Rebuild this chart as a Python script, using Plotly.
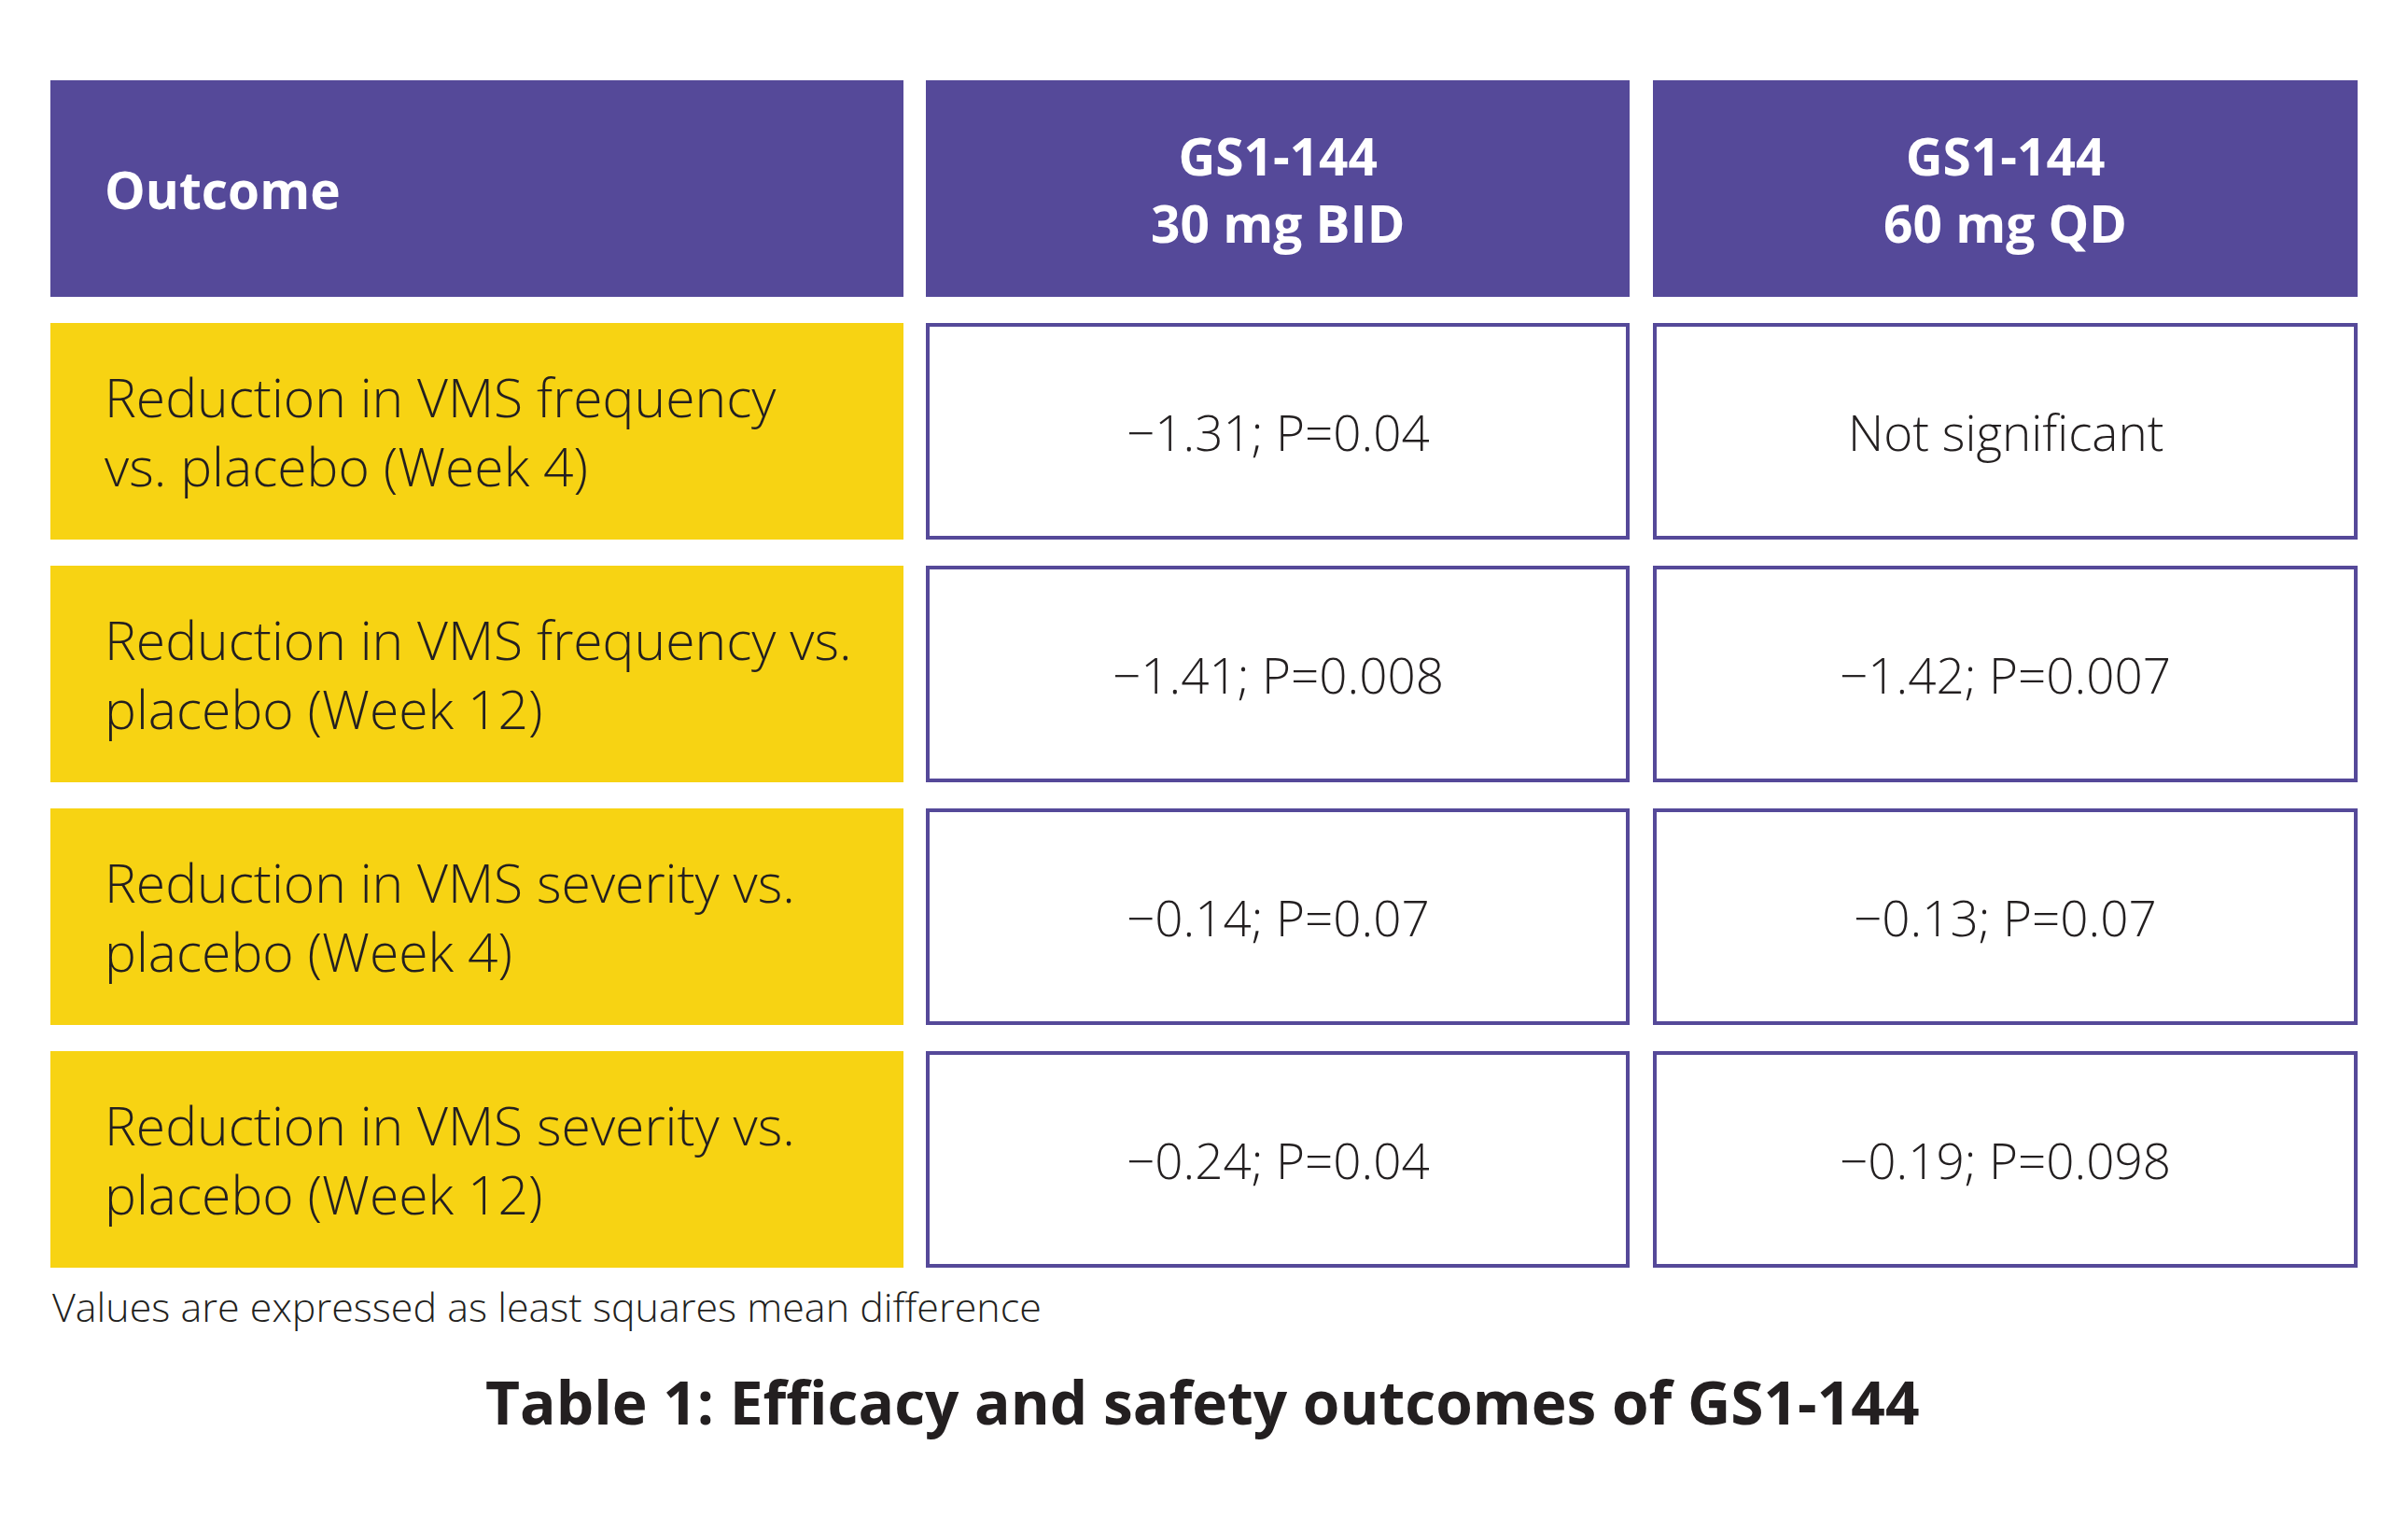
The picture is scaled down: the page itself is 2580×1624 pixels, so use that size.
import plotly.graph_objects as go

# ---- data ----
header_labels = ["Outcome", "GS1-144<br>30 mg BID", "GS1-144<br>60 mg QD"]
outcomes = [
    "Reduction in VMS frequency<br>vs. placebo (Week 4)",
    "Reduction in VMS frequency vs.<br>placebo (Week 12)",
    "Reduction in VMS severity vs.<br>placebo (Week 4)",
    "Reduction in VMS severity vs.<br>placebo (Week 12)",
]
bid_30mg = ["\u22121.31; P=0.04", "\u22121.41; P=0.008", "\u22120.14; P=0.07", "\u22120.24; P=0.04"]
qd_60mg = ["Not significant", "\u22121.42; P=0.007", "\u22120.13; P=0.07", "\u22120.19; P=0.098"]
footnote = "Values are expressed as least squares mean difference"
caption = "Table 1: Efficacy and safety outcomes of GS1-144"

# ---- style / layout ----
W, H = 2580, 1624
PURPLE = "#554999"
YELLOW = "#F7D313"
TEXT = "#231F20"
FONT = "Open Sans"

col_x = [(54, 968), (992, 1746), (1771, 2526)]
head_y = (86, 318)
row_top0, row_h, row_step = 346, 232, 260
text_left = 110

fig = go.Figure()
shapes = []
annots = []


def add_text(text, x, y, xanchor, font, align="left"):
    annots.append(dict(x=x, y=y, xref="x", yref="y", text=text, showarrow=False,
                       xanchor=xanchor, yanchor="middle", align=align, font=font))


# header
for j, lab in enumerate(header_labels):
    x0, x1 = col_x[j]
    shapes.append(dict(type="rect", xref="x", yref="y", x0=x0, x1=x1, y0=head_y[0], y1=head_y[1],
                       fillcolor=PURPLE, line=dict(width=0), layer="below"))
    hf = dict(family=FONT, size=55, color="white", weight="bold")
    yc = (head_y[0] + head_y[1]) / 2
    if j == 0:
        add_text(lab, text_left, yc, "left", hf)
    else:
        add_text(lab, (x0 + x1) / 2, yc, "center", hf, align="center")

# body rows
for i in range(len(outcomes)):
    y0 = row_top0 + i * row_step
    y1 = y0 + row_h
    yc = (y0 + y1) / 2
    x0, x1 = col_x[0]
    shapes.append(dict(type="rect", xref="x", yref="y", x0=x0, x1=x1, y0=y0, y1=y1,
                       fillcolor=YELLOW, line=dict(width=0), layer="below"))
    add_text(outcomes[i], text_left, yc, "left",
             dict(family=FONT, size=57, color=TEXT, weight=300))
    for j, vals in ((1, bid_30mg), (2, qd_60mg)):
        x0, x1 = col_x[j]
        shapes.append(dict(type="rect", xref="x", yref="y", x0=x0 + 2, x1=x1 - 2, y0=y0 + 2, y1=y1 - 2,
                           fillcolor="white", line=dict(color=PURPLE, width=4), layer="below"))
        add_text(vals[i], (x0 + x1) / 2, yc, "center",
                 dict(family=FONT, size=53, color=TEXT, weight=300), align="center")

add_text(footnote, 54, 1399, "left", dict(family=FONT, size=43, color=TEXT, weight=300))
add_text(caption, 1288, 1501, "center", dict(family=FONT, size=64, color=TEXT, weight="bold"),
         align="center")

fig.update_layout(
    width=W, height=H,
    margin=dict(l=0, r=0, t=0, b=0),
    paper_bgcolor="white", plot_bgcolor="white",
    xaxis=dict(range=[0, W], visible=False, fixedrange=True),
    yaxis=dict(range=[H, 0], visible=False, fixedrange=True),
    shapes=shapes, annotations=annots, showlegend=False,
)

fig.write_html("out.html", config={"displayModeBar": False},
               post_script="document.body.style.margin='0';document.body.style.overflow='hidden';")
